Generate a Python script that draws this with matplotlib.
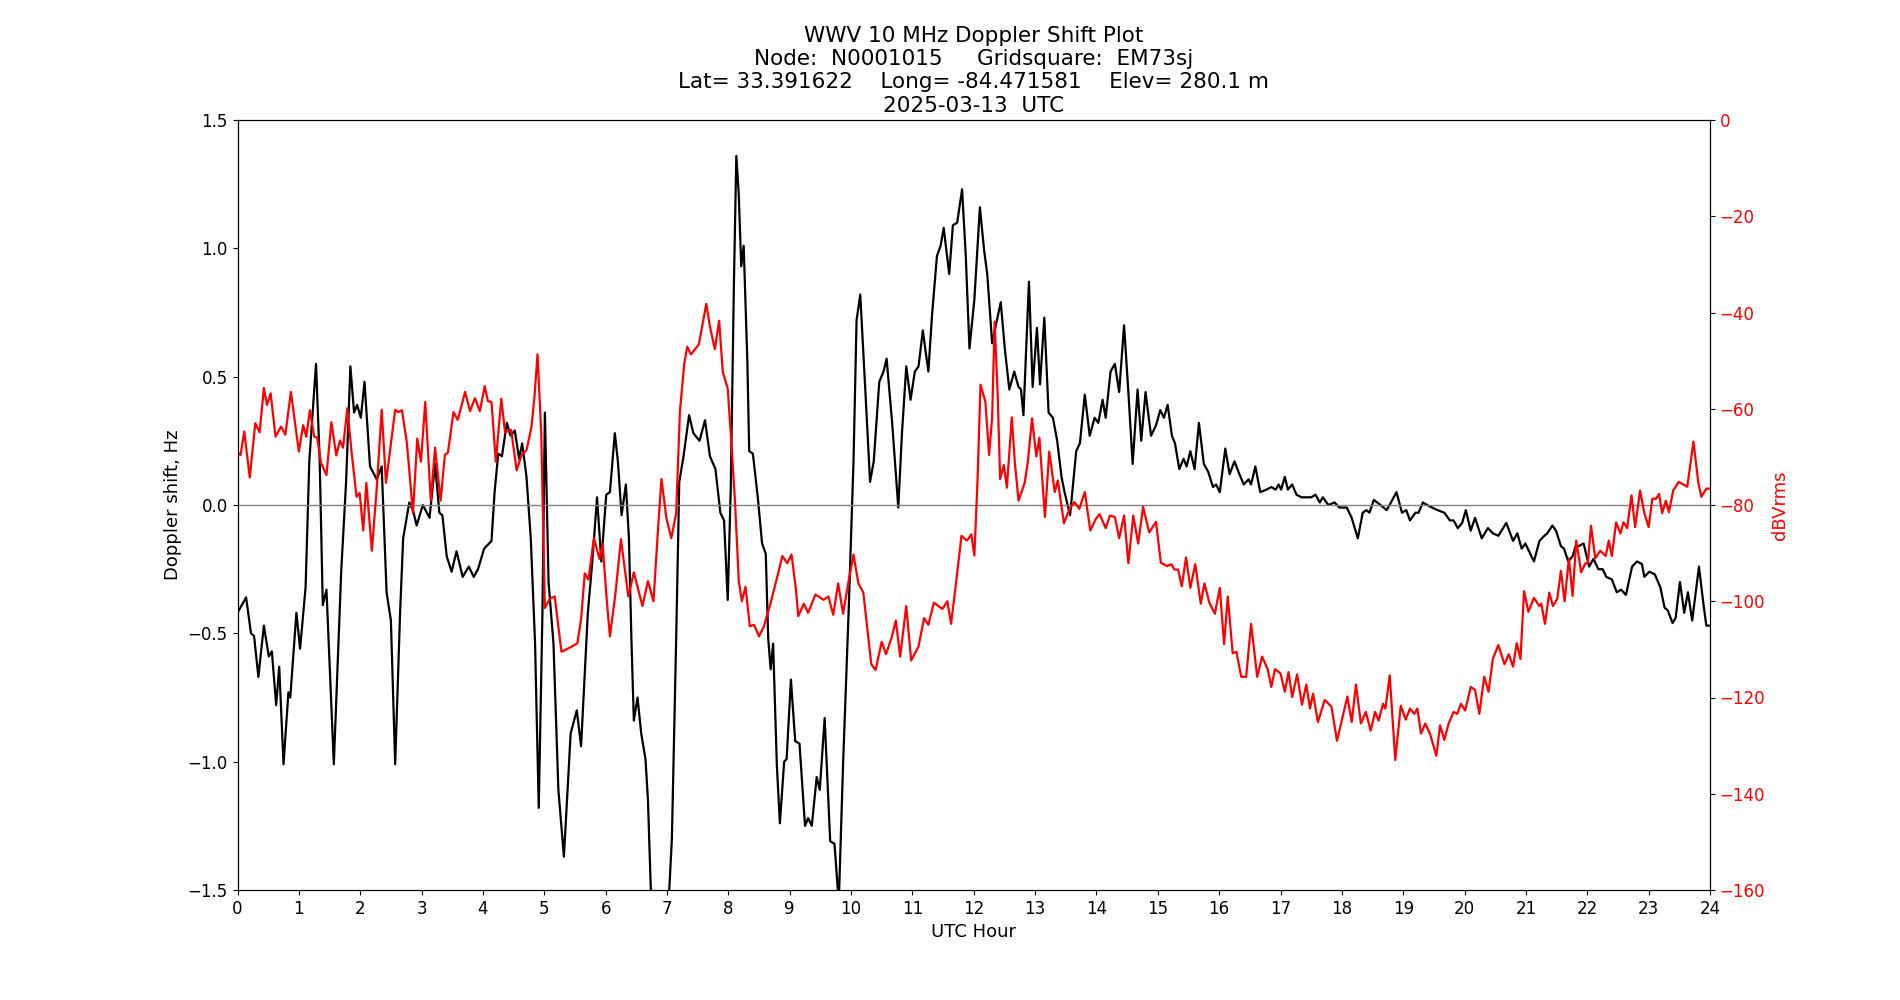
import matplotlib
matplotlib.use("Agg")
import matplotlib.pyplot as plt
import numpy as np

# ---- Doppler shift (Hz) vs UTC hour ----
doppler_t = [
    0.00, 0.14, 0.22, 0.27, 0.34, 0.43, 0.51, 0.56, 0.63, 0.68, 0.75, 0.83, 0.86, 0.96,
    1.02, 1.11, 1.17, 1.28, 1.34, 1.39, 1.45, 1.57, 1.69, 1.77, 1.84, 1.90, 1.95,
    2.01, 2.07, 2.16, 2.27, 2.35, 2.43, 2.50, 2.57, 2.65, 2.70, 2.80, 2.86, 2.92,
    3.02, 3.13, 3.22, 3.29, 3.34, 3.41, 3.49, 3.57, 3.67, 3.77, 3.85, 3.92,
    4.02, 4.14, 4.19, 4.25, 4.31, 4.39, 4.45, 4.52, 4.59, 4.64, 4.71, 4.78, 4.85, 4.91, 4.97,
    5.01, 5.07, 5.15, 5.23, 5.32, 5.43, 5.53, 5.60, 5.71, 5.78, 5.86, 5.93,
    6.01, 6.07, 6.15, 6.20, 6.26, 6.33, 6.38, 6.42, 6.46, 6.52, 6.58, 6.65, 6.69, 6.75, 6.86,
    7.02, 7.08, 7.15, 7.20, 7.27, 7.36, 7.43, 7.53, 7.62, 7.70, 7.79, 7.87, 7.93, 7.99,
    8.04, 8.09, 8.13, 8.17, 8.21, 8.25, 8.31, 8.34, 8.40, 8.48, 8.55, 8.61, 8.65, 8.69, 8.73,
    8.79, 8.84, 8.91, 8.95,
    9.02, 9.09, 9.16, 9.25, 9.30, 9.36, 9.44, 9.49, 9.57, 9.66, 9.73, 9.80, 9.87, 9.96,
    10.04, 10.09, 10.15, 10.23, 10.31, 10.37, 10.46, 10.53, 10.58, 10.67, 10.77, 10.83, 10.90, 10.97,
    11.04, 11.10, 11.17, 11.26, 11.32, 11.40, 11.46, 11.51, 11.60, 11.66, 11.73, 11.81, 11.87, 11.93,
    12.01, 12.10, 12.17, 12.22, 12.30, 12.36, 12.44, 12.51, 12.58, 12.66, 12.73, 12.77, 12.81, 12.90, 12.96,
    13.03, 13.08, 13.15, 13.22, 13.29, 13.36, 13.43, 13.48, 13.57, 13.67, 13.73, 13.81, 13.89, 13.97,
    14.03, 14.10, 14.15, 14.23, 14.30, 14.37, 14.45, 14.52, 14.59, 14.67, 14.73, 14.80, 14.89, 14.97,
    15.04, 15.10, 15.16, 15.23, 15.28, 15.35, 15.42, 15.47, 15.53, 15.60, 15.67, 15.75, 15.82, 15.90, 15.95,
    16.01, 16.10, 16.17, 16.25, 16.33, 16.40, 16.48, 16.52, 16.59, 16.67, 16.77, 16.85, 16.92, 16.97,
    17.01, 17.07, 17.12, 17.19, 17.26, 17.34, 17.43, 17.50, 17.57, 17.64, 17.69, 17.78, 17.88, 17.96,
    18.08, 18.16, 18.26, 18.34, 18.40, 18.45, 18.52, 18.63, 18.73, 18.80, 18.89, 18.98,
    19.05, 19.11, 19.20, 19.25, 19.32, 19.39, 19.47, 19.56, 19.67, 19.76, 19.82, 19.89, 19.96,
    20.02, 20.10, 20.17, 20.28, 20.38, 20.46, 20.55, 20.68, 20.79, 20.86, 20.93, 20.99,
    21.05, 21.13, 21.22, 21.30, 21.35, 21.43, 21.49, 21.57, 21.62, 21.69, 21.76, 21.81, 21.86, 21.94,
    22.03, 22.10, 22.18, 22.25, 22.31, 22.40, 22.48, 22.55, 22.63, 22.73, 22.81, 22.89, 22.93,
    23.01, 23.10, 23.19, 23.26, 23.31, 23.39, 23.44, 23.51, 23.58, 23.64, 23.71, 23.82, 23.89, 23.94, 24.00,
]
doppler_hz = [
    -0.42, -0.36, -0.50, -0.51, -0.67, -0.47, -0.59, -0.57, -0.78, -0.63, -1.01, -0.73, -0.75, -0.42,
    -0.56, -0.32, 0.17, 0.55, 0.17, -0.39, -0.33, -1.01, -0.26, 0.09, 0.54, 0.36, 0.39,
    0.34, 0.48, 0.15, 0.10, 0.15, -0.34, -0.45, -1.01, -0.42, -0.13, 0.01, -0.02, -0.08,
    0.00, -0.05, 0.16, -0.03, -0.04, -0.20, -0.26, -0.18, -0.28, -0.24, -0.28, -0.25,
    -0.17, -0.14, 0.05, 0.20, 0.19, 0.32, 0.27, 0.29, 0.18, 0.24, 0.11, -0.13, -0.54, -1.18, -0.42,
    0.36, -0.30, -0.54, -1.11, -1.37, -0.89, -0.80, -0.94, -0.42, -0.23, 0.03, -0.22,
    0.04, 0.05, 0.28, 0.17, -0.04, 0.08, -0.13, -0.52, -0.84, -0.75, -0.89, -0.99, -1.15, -1.60, -1.55,
    -1.58, -1.30, -0.52, 0.09, 0.19, 0.35, 0.28, 0.25, 0.33, 0.19, 0.14, -0.03, -0.06, -0.37,
    0.07, 0.85, 1.36, 1.21, 0.93, 1.01, 0.56, 0.21, 0.20, 0.03, -0.15, -0.19, -0.52, -0.64, -0.54,
    -1.01, -1.24, -1.00, -0.99,
    -0.68, -0.92, -0.93, -1.25, -1.22, -1.25, -1.06, -1.11, -0.83, -1.31, -1.32, -1.55, -1.01, -0.42,
    0.17, 0.72, 0.82, 0.46, 0.09, 0.17, 0.48, 0.52, 0.57, 0.32, -0.01, 0.28, 0.54, 0.41,
    0.52, 0.54, 0.68, 0.52, 0.74, 0.97, 1.01, 1.08, 0.90, 1.09, 1.10, 1.23, 0.97, 0.61,
    0.80, 1.16, 0.99, 0.90, 0.63, 0.70, 0.79, 0.60, 0.45, 0.52, 0.46, 0.45, 0.35, 0.87, 0.46,
    0.69, 0.47, 0.73, 0.36, 0.34, 0.25, 0.11, 0.05, -0.04, 0.21, 0.24, 0.43, 0.27, 0.34,
    0.32, 0.41, 0.34, 0.52, 0.55, 0.44, 0.70, 0.44, 0.16, 0.45, 0.25, 0.44, 0.27, 0.31,
    0.37, 0.34, 0.39, 0.27, 0.24, 0.14, 0.18, 0.15, 0.21, 0.14, 0.32, 0.16, 0.13, 0.07, 0.08,
    0.05, 0.22, 0.12, 0.17, 0.12, 0.08, 0.10, 0.08, 0.15, 0.05, 0.06, 0.07, 0.06, 0.08,
    0.06, 0.11, 0.06, 0.08, 0.04, 0.03, 0.03, 0.03, 0.04, 0.01, 0.03, 0.00, 0.01, -0.01,
    -0.01, -0.05, -0.13, -0.03, -0.02, -0.03, 0.02, 0.00, -0.02, 0.01, 0.05, -0.03,
    -0.02, -0.06, -0.03, -0.03, 0.01, 0.00, -0.01, -0.02, -0.03, -0.06, -0.06, -0.09, -0.07,
    -0.02, -0.10, -0.05, -0.13, -0.09, -0.11, -0.12, -0.07, -0.14, -0.11, -0.17, -0.15,
    -0.18, -0.22, -0.14, -0.12, -0.11, -0.08, -0.10, -0.16, -0.17, -0.22, -0.20, -0.16, -0.16, -0.15,
    -0.24, -0.21, -0.25, -0.25, -0.28, -0.29, -0.34, -0.33, -0.35, -0.24, -0.22, -0.23, -0.28,
    -0.26, -0.27, -0.32, -0.40, -0.41, -0.46, -0.44, -0.30, -0.42, -0.34, -0.45, -0.24, -0.38, -0.47, -0.47,
]

# ---- Signal level (dBVrms) vs UTC hour ----
power_t = [
    0.00, 0.05, 0.11, 0.20, 0.29, 0.36, 0.43, 0.48, 0.54, 0.62, 0.71, 0.78, 0.87,
    1.00, 1.07, 1.12, 1.18, 1.25, 1.30, 1.36, 1.45, 1.53, 1.61, 1.67, 1.72, 1.79, 1.86, 1.94, 1.99,
    2.05, 2.10, 2.19, 2.27, 2.35, 2.42, 2.57, 2.62, 2.68, 2.76, 2.86, 2.93, 2.99,
    3.06, 3.15, 3.22, 3.31, 3.38, 3.43, 3.52, 3.59, 3.71, 3.79, 3.87, 3.95,
    4.03, 4.08, 4.14, 4.21, 4.30, 4.36, 4.46, 4.55, 4.63, 4.71, 4.79, 4.84, 4.89, 4.95,
    5.01, 5.09, 5.17, 5.28, 5.36, 5.45, 5.54, 5.60, 5.66, 5.72, 5.81, 5.90, 5.95,
    6.02, 6.07, 6.16, 6.25, 6.37, 6.46, 6.60, 6.69, 6.78, 6.86, 6.91, 6.99,
    7.07, 7.15, 7.21, 7.28, 7.33, 7.39, 7.46, 7.52, 7.58, 7.64, 7.70, 7.78, 7.85, 7.91, 7.99,
    8.06, 8.11, 8.17, 8.22, 8.28, 8.35, 8.42, 8.50, 8.58, 8.69, 8.80, 8.88, 8.96,
    9.03, 9.10, 9.14, 9.23, 9.30, 9.42, 9.55, 9.63, 9.71, 9.79, 9.87, 9.96,
    10.04, 10.12, 10.20, 10.33, 10.40, 10.50, 10.57, 10.66, 10.73, 10.80, 10.90, 10.98,
    11.10, 11.19, 11.26, 11.35, 11.49, 11.57, 11.63, 11.70, 11.80, 11.89, 11.96,
    12.01, 12.06, 12.11, 12.19, 12.25, 12.30, 12.34, 12.39, 12.43, 12.49, 12.54, 12.62, 12.67, 12.73,
    12.83, 12.88, 12.95, 13.02, 13.07, 13.16, 13.23, 13.32, 13.37, 13.47, 13.56, 13.64, 13.72,
    13.81, 13.90, 13.99, 14.05, 14.15, 14.22, 14.30, 14.37, 14.45, 14.52, 14.60, 14.68, 14.76,
    14.86, 14.97, 15.05, 15.15, 15.22, 15.27, 15.33, 15.39, 15.46, 15.53, 15.61, 15.70, 15.76,
    15.84, 15.93, 16.01, 16.08, 16.14, 16.22, 16.28, 16.36, 16.44, 16.52, 16.62, 16.70, 16.79,
    16.85, 16.91, 17.00, 17.07, 17.13, 17.19, 17.27, 17.35, 17.42, 17.48, 17.53, 17.61, 17.72,
    17.83, 17.92, 18.03, 18.09, 18.16, 18.23, 18.31, 18.39, 18.47, 18.54, 18.60, 18.67, 18.71,
    18.78, 18.87, 18.96, 19.04, 19.11, 19.18, 19.23, 19.29, 19.36, 19.44, 19.54, 19.60, 19.67,
    19.74, 19.82, 19.88, 19.94, 20.01, 20.10, 20.17, 20.24, 20.32, 20.39, 20.46, 20.55, 20.65,
    20.72, 20.79, 20.85, 20.91, 20.97, 21.04, 21.13, 21.22, 21.25, 21.31, 21.38, 21.44, 21.51,
    21.57, 21.63, 21.70, 21.76, 21.82, 21.90, 21.97, 22.01, 22.06, 22.13, 22.21, 22.30, 22.35,
    22.40, 22.47, 22.54, 22.59, 22.65, 22.72, 22.78, 22.86, 22.93, 23.00, 23.06, 23.12, 23.17,
    23.22, 23.28, 23.33, 23.40, 23.49, 23.63, 23.73, 23.81, 23.86, 23.94, 24.00,
]
power_db = [
    -69.1, -69.6, -64.7, -74.3, -63.0, -64.9, -55.7, -59.2, -56.8, -65.8, -63.7, -65.4, -56.5,
    -68.9, -63.4, -65.8, -60.3, -65.8, -66.0, -71.2, -73.8, -62.8, -69.7, -66.6, -68.1, -59.9, -69.1, -78.3, -77.5,
    -85.3, -75.4, -89.5, -76.4, -60.2, -75.4, -60.2, -60.7, -60.3, -67.0, -81.7, -66.2, -71.0,
    -58.6, -79.1, -68.1, -79.1, -69.6, -69.1, -60.7, -62.3, -56.5, -60.5, -57.8, -60.5,
    -55.3, -58.4, -58.6, -71.0, -57.9, -64.9, -64.4, -72.8, -69.6, -68.6, -63.9, -57.6, -48.7, -64.9,
    -101.4, -99.5, -99.0, -110.5, -110.0, -109.4, -108.7, -103.7, -94.2, -95.5, -86.9, -91.2, -88.0,
    -100.0, -107.3, -98.4, -87.1, -99.0, -94.0, -101.0, -95.8, -100.0, -83.8, -74.6, -82.7,
    -86.9, -81.7, -60.7, -50.8, -47.1, -48.7, -47.6, -46.6, -42.4, -38.2, -42.9, -47.6, -41.7, -52.4, -55.8,
    -69.1, -79.6, -95.8, -100.0, -97.0, -105.2, -104.9, -107.3, -105.2, -100.3, -94.8, -90.6, -92.1,
    -90.3, -97.4, -103.1, -100.5, -102.4, -98.6, -99.7, -99.0, -102.8, -96.3, -102.6, -95.8,
    -90.3, -96.3, -98.2, -113.1, -114.3, -108.4, -111.0, -107.6, -104.0, -111.5, -101.0, -112.3,
    -109.4, -103.5, -104.9, -100.3, -101.6, -100.0, -104.7, -97.4, -86.4, -87.4, -86.1,
    -90.5, -75.4, -55.0, -58.6, -69.6, -61.8, -41.9, -57.1, -74.6, -71.7, -76.4, -61.8, -71.2, -79.1,
    -75.4, -71.2, -62.0, -69.9, -66.0, -82.5, -68.9, -77.3, -74.9, -83.8, -80.8, -79.4, -80.8,
    -77.3, -85.3, -82.9, -81.9, -84.8, -82.2, -82.5, -86.9, -82.2, -92.1, -82.2, -88.0, -80.4,
    -85.7, -83.5, -92.0, -92.7, -92.3, -93.4, -93.4, -96.9, -90.9, -97.2, -92.3, -100.5, -96.3,
    -100.3, -102.6, -97.2, -108.9, -99.0, -110.8, -110.5, -115.7, -115.7, -104.7, -115.7, -111.5, -114.1,
    -117.8, -114.1, -115.0, -118.8, -114.7, -119.9, -115.2, -121.5, -117.3, -122.3, -119.2, -125.1, -120.5,
    -121.9, -129.0, -123.0, -119.8, -125.1, -117.3, -125.4, -123.0, -126.9, -123.0, -124.8, -121.3, -122.3,
    -115.4, -133.0, -121.7, -124.6, -122.3, -123.4, -122.3, -127.5, -125.4, -127.7, -132.1, -125.8, -128.8,
    -125.4, -123.0, -123.4, -121.3, -122.7, -117.8, -118.4, -123.4, -115.7, -118.8, -112.0, -109.1, -113.1,
    -111.0, -113.6, -108.7, -112.0, -97.9, -102.2, -99.3, -101.0, -100.5, -104.7, -98.2, -101.0, -99.5,
    -93.7, -100.0, -91.1, -98.9, -87.4, -94.0, -92.1, -92.1, -84.3, -91.1, -89.5, -90.6, -87.4,
    -90.6, -83.6, -85.9, -83.6, -84.8, -78.0, -84.6, -77.0, -81.7, -84.6, -78.7, -78.7, -77.7,
    -81.7, -79.1, -81.5, -77.0, -75.2, -76.2, -66.8, -75.4, -78.3, -76.6, -76.6,
]

hour_ticks = list(range(0, 25))
doppler_ticks = [-1.5, -1.0, -0.5, 0.0, 0.5, 1.0, 1.5]
power_ticks = [-160, -140, -120, -100, -80, -60, -40, -20, 0]

title_text = ("WWV 10 MHz Doppler Shift Plot\n"
              "Node:  N0001015     Gridsquare:  EM73sj\n"
              "Lat= 33.391622    Long= -84.471581    Elev= 280.1 m\n"
              "2025-03-13  UTC")

plt.rcParams['font.family'] = ['DejaVu Sans']
plt.rcParams['font.size'] = 12

fig = plt.figure(figsize=(19, 10), dpi=100)
ax = fig.add_subplot(111)

ax.plot(doppler_t, doppler_hz, color='black', linewidth=1.6,
        solid_joinstyle='round')
ax.axhline(0, color='grey', linewidth=1)
ax.set_xlim(0, 24)
ax.set_ylim(-1.5, 1.5)
ax.set_xticks(hour_ticks)
ax.set_yticks(doppler_ticks)
ax.set_xlabel('UTC Hour', fontsize=13)
ax.set_ylabel('Doppler shift, Hz', fontsize=13)
ax.set_title(title_text, fontsize=15.5)

ax2 = ax.twinx()
ax2.plot(power_t, power_db, color='red', linewidth=1.6,
         solid_joinstyle='round')
ax2.set_ylim(-160, 0)
ax2.set_yticks(power_ticks)
ax2.set_ylabel('dBVrms', color='red', fontsize=13)
ax2.tick_params(axis='y', labelcolor='red')

fig.savefig('out.png', dpi=100)
